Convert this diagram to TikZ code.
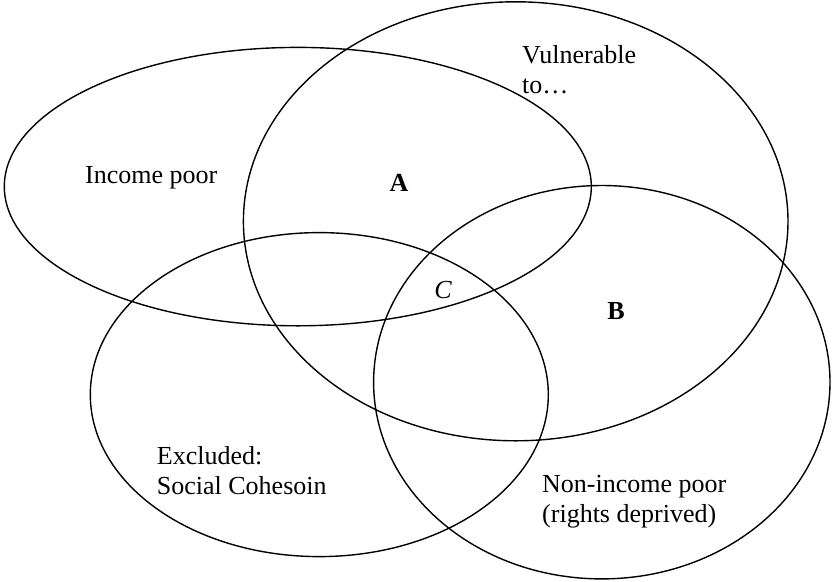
\documentclass[tikz,border=0pt]{standalone}
\usepackage{fontspec}
\setmainfont{Liberation Serif}
\begin{document}
\begin{tikzpicture}
  [x=1pt,y=-1pt,every node/.style={inner sep=0pt,font=\fontsize{26}{30}\selectfont}]
 \useasboundingbox (0,0) rectangle (832,581);

 \foreach \cx/\cy/\rx/\ry in {297.8/186.6/293.5/139.2,515.7/221.3/272.3/219.5,319.3/394.6/229/162,601.8/382.2/228.2/196.7}
    \draw[line width=1.4pt] (\cx,\cy) ellipse (\rx pt and \ry pt);

 % multi-line nodes sit on the baseline of their last line
 \node (n1)[anchor=base west] at (85,183.7) {Income poor};
 \node (n2)[anchor=base west,align=left] at (522,93.8) {Vulnerable\\to…};
 \node (n3)[anchor=base west,align=left] at (156.7,494.6) {Excluded:\\Social Cohesoin};
 \node (n4)[anchor=base west,align=left] at (542,522.5) {Non-income poor\\(rights deprived)};
 \node (a)[anchor=base,font=\fontsize{26}{30}\selectfont\bfseries] at (399,191.8) {A};
 \node (b)[anchor=base,font=\fontsize{26}{30}\selectfont\bfseries] at (616,319.8) {B};
 \node (c)[anchor=base,font=\fontsize{26}{30}\selectfont\itshape] at (443,298.7) {C};
\end{tikzpicture}
\end{document}
